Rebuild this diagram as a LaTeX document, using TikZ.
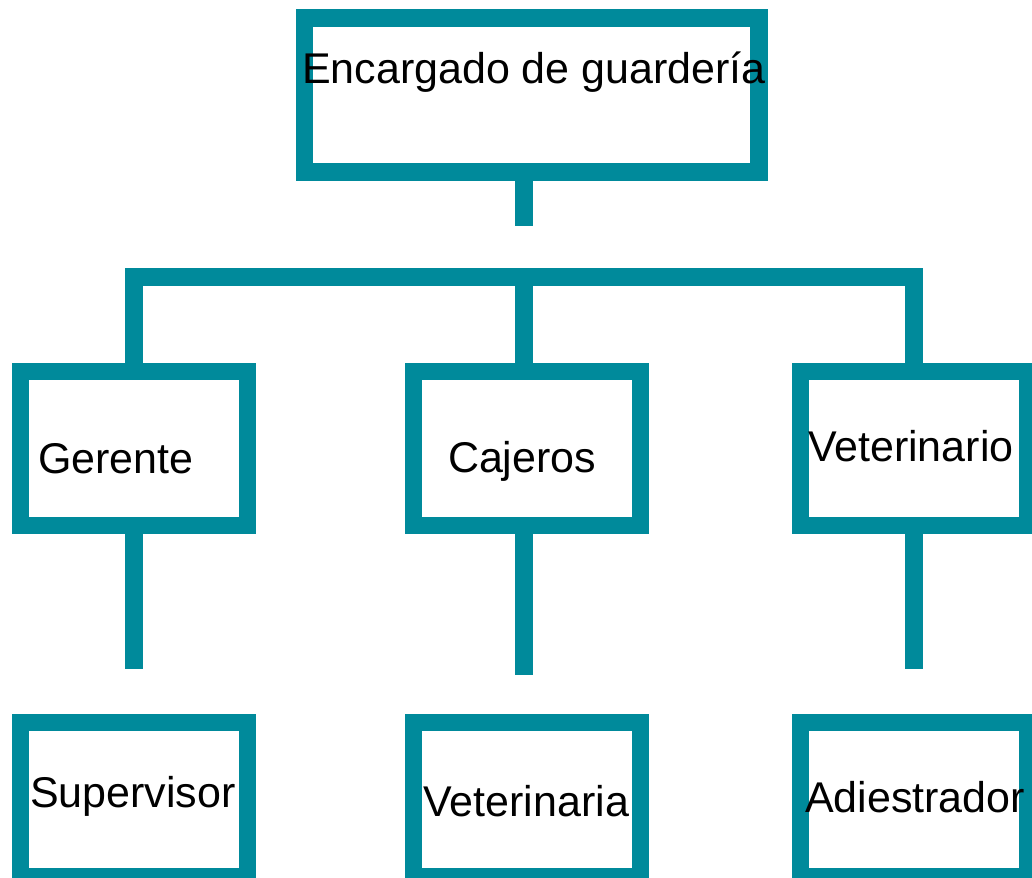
\documentclass[tikz,border=0pt]{standalone}
\usepackage{fontspec}
\setmainfont{Liberation Sans}
\definecolor{teal1}{RGB}{0,138,155}
\begin{document}
\begin{tikzpicture}[x=1pt,y=-1pt,
  orgbox/.style={draw=teal1,line width=17.5pt,rectangle,inner sep=0pt,outer sep=0pt,minimum width=227pt,minimum height=154.3pt},
  link/.style={draw=teal1,line width=17.5pt,line cap=butt,line join=miter},
  lbl/.style={anchor=base west,inner sep=0pt,outer sep=0pt,font=\fontsize{43}{50}\selectfont}]
\useasboundingbox (0,0) rectangle (1032,877);
% boxes
\node[orgbox,minimum width=454.5pt] (top) at (531.5,95) {};
\node[orgbox] (ger) at (133.8,448.4) {};
\node[orgbox] (caj) at (527.2,448.4) {};
\node[orgbox] (vet) at (913.8,448.4) {};
\node[orgbox] (sup) at (133.8,799.4) {};
\node[orgbox] (vta) at (527.2,799.4) {};
\node[orgbox] (adi) at (913.8,799.4) {};
% texts
\node[lbl] (tEnc) at (302,83.3) {Encargado de guardería};
\node[lbl] (tGer) at (38,473) {Gerente};
\node[lbl] (tCaj) at (448,472) {Cajeros};
\node[lbl] (tVet) at (808,461.7) {Veterinario};
\node[lbl] (tSup) at (30,807.7) {Supervisor};
\node[lbl] (tVta) at (423.5,816.7) {Veterinaria};
\node[lbl] (tAdi) at (805,812.7) {Adiestrador};
% connector coordinates
\coordinate (topEnd) at (524,225.7);
\coordinate (barL) at (134,276.8);
\coordinate (barR) at (914,276.8);
\coordinate (barM) at (524,276.8);
\coordinate (gEnd) at (134,669.3);
\coordinate (cEnd) at (524,675);
\coordinate (vEnd) at (914,669.3);
% connectors
\draw[link] (top.south -| topEnd) -- (topEnd);
\draw[link] (ger.north -| barL) -- (barL) -- (barR) -- (vet.north -| barR);
\draw[link] (barM) -- (caj.north -| barM);
\draw[link] (ger.south -| gEnd) -- (gEnd);
\draw[link] (caj.south -| cEnd) -- (cEnd);
\draw[link] (vet.south -| vEnd) -- (vEnd);
\end{tikzpicture}
\end{document}
